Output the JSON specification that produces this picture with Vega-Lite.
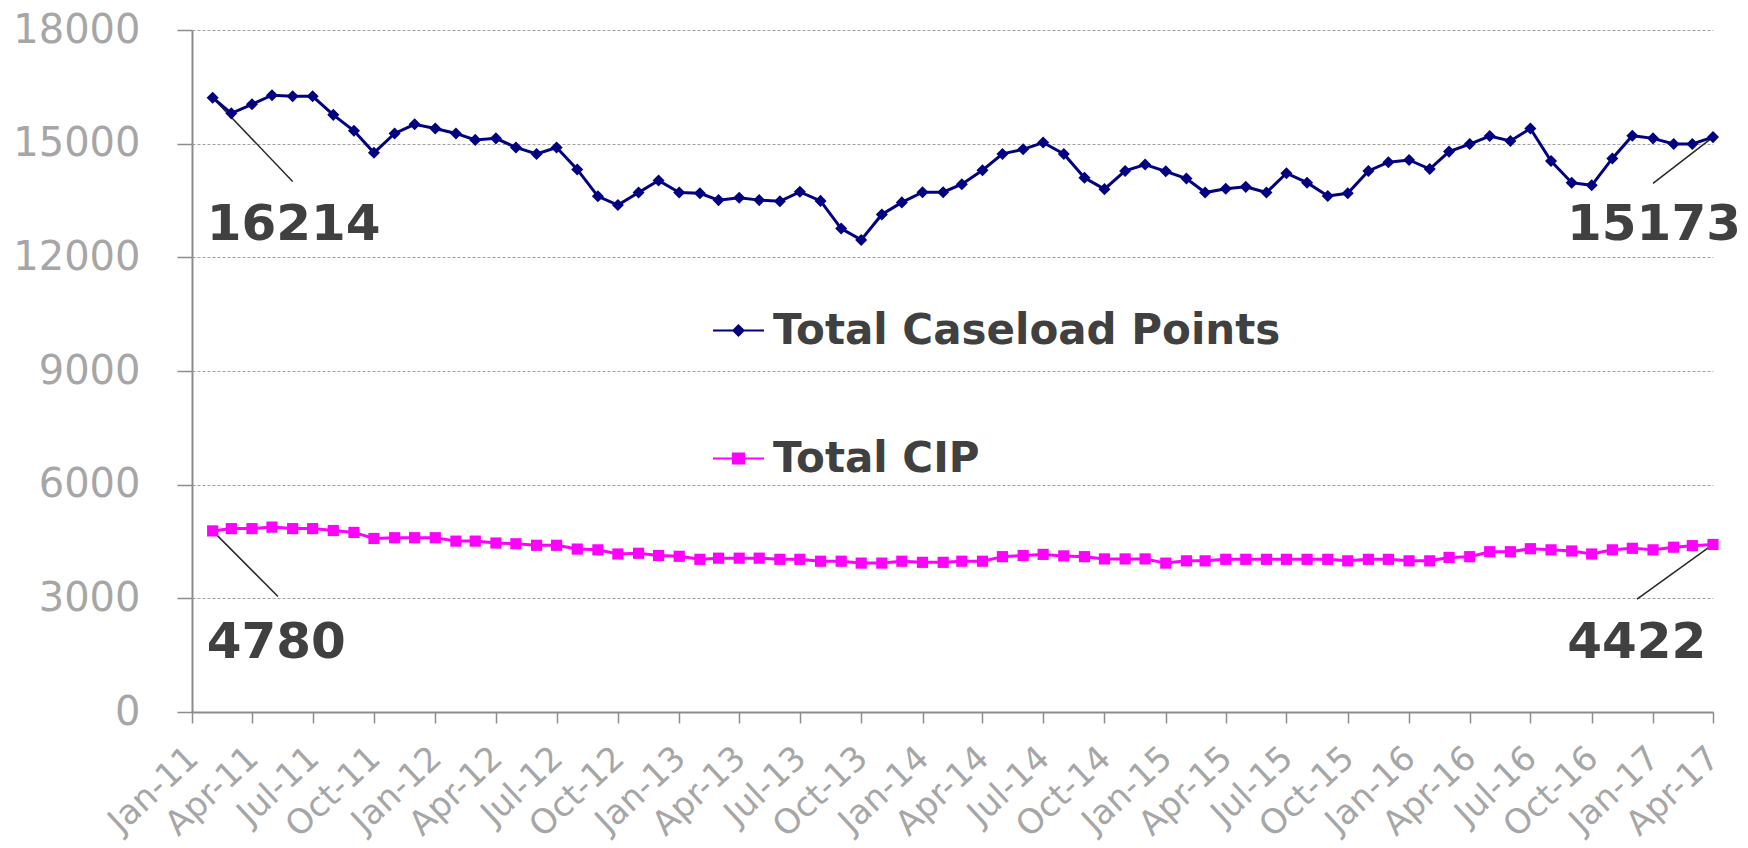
{
  "$schema": "https://vega.github.io/schema/vega-lite/v6.json",
  "autosize": {"type": "none"},
  "width": 1521,
  "height": 682,
  "padding": {"left": 192, "top": 30, "right": 35, "bottom": 136},
  "background": "white",
  "config": {"view": {"stroke": null}, "font": "DejaVu Sans"},
  "datasets": {
    "main": [
      {"date": "2011-02-01", "series": "Total Caseload Points", "value": 16214},
      {"date": "2011-03-01", "series": "Total Caseload Points", "value": 15800},
      {"date": "2011-04-01", "series": "Total Caseload Points", "value": 16040},
      {"date": "2011-05-01", "series": "Total Caseload Points", "value": 16280},
      {"date": "2011-06-01", "series": "Total Caseload Points", "value": 16250},
      {"date": "2011-07-01", "series": "Total Caseload Points", "value": 16250},
      {"date": "2011-08-01", "series": "Total Caseload Points", "value": 15760},
      {"date": "2011-09-01", "series": "Total Caseload Points", "value": 15340},
      {"date": "2011-10-01", "series": "Total Caseload Points", "value": 14760},
      {"date": "2011-11-01", "series": "Total Caseload Points", "value": 15270},
      {"date": "2011-12-01", "series": "Total Caseload Points", "value": 15510},
      {"date": "2012-01-01", "series": "Total Caseload Points", "value": 15400},
      {"date": "2012-02-01", "series": "Total Caseload Points", "value": 15270},
      {"date": "2012-03-01", "series": "Total Caseload Points", "value": 15100},
      {"date": "2012-04-01", "series": "Total Caseload Points", "value": 15140},
      {"date": "2012-05-01", "series": "Total Caseload Points", "value": 14900},
      {"date": "2012-06-01", "series": "Total Caseload Points", "value": 14730},
      {"date": "2012-07-01", "series": "Total Caseload Points", "value": 14900},
      {"date": "2012-08-01", "series": "Total Caseload Points", "value": 14320},
      {"date": "2012-09-01", "series": "Total Caseload Points", "value": 13610},
      {"date": "2012-10-01", "series": "Total Caseload Points", "value": 13380},
      {"date": "2012-11-01", "series": "Total Caseload Points", "value": 13710},
      {"date": "2012-12-01", "series": "Total Caseload Points", "value": 14030},
      {"date": "2013-01-01", "series": "Total Caseload Points", "value": 13710},
      {"date": "2013-02-01", "series": "Total Caseload Points", "value": 13690},
      {"date": "2013-03-01", "series": "Total Caseload Points", "value": 13510},
      {"date": "2013-04-01", "series": "Total Caseload Points", "value": 13570},
      {"date": "2013-05-01", "series": "Total Caseload Points", "value": 13510},
      {"date": "2013-06-01", "series": "Total Caseload Points", "value": 13480},
      {"date": "2013-07-01", "series": "Total Caseload Points", "value": 13730},
      {"date": "2013-08-01", "series": "Total Caseload Points", "value": 13490},
      {"date": "2013-09-01", "series": "Total Caseload Points", "value": 12760},
      {"date": "2013-10-01", "series": "Total Caseload Points", "value": 12460},
      {"date": "2013-11-01", "series": "Total Caseload Points", "value": 13130},
      {"date": "2013-12-01", "series": "Total Caseload Points", "value": 13450},
      {"date": "2014-01-01", "series": "Total Caseload Points", "value": 13720},
      {"date": "2014-02-01", "series": "Total Caseload Points", "value": 13720},
      {"date": "2014-03-01", "series": "Total Caseload Points", "value": 13930},
      {"date": "2014-04-01", "series": "Total Caseload Points", "value": 14300},
      {"date": "2014-05-01", "series": "Total Caseload Points", "value": 14730},
      {"date": "2014-06-01", "series": "Total Caseload Points", "value": 14850},
      {"date": "2014-07-01", "series": "Total Caseload Points", "value": 15030},
      {"date": "2014-08-01", "series": "Total Caseload Points", "value": 14730},
      {"date": "2014-09-01", "series": "Total Caseload Points", "value": 14100},
      {"date": "2014-10-01", "series": "Total Caseload Points", "value": 13800},
      {"date": "2014-11-01", "series": "Total Caseload Points", "value": 14280},
      {"date": "2014-12-01", "series": "Total Caseload Points", "value": 14450},
      {"date": "2015-01-01", "series": "Total Caseload Points", "value": 14270},
      {"date": "2015-02-01", "series": "Total Caseload Points", "value": 14080},
      {"date": "2015-03-01", "series": "Total Caseload Points", "value": 13710},
      {"date": "2015-04-01", "series": "Total Caseload Points", "value": 13810},
      {"date": "2015-05-01", "series": "Total Caseload Points", "value": 13860},
      {"date": "2015-06-01", "series": "Total Caseload Points", "value": 13710},
      {"date": "2015-07-01", "series": "Total Caseload Points", "value": 14220},
      {"date": "2015-08-01", "series": "Total Caseload Points", "value": 13970},
      {"date": "2015-09-01", "series": "Total Caseload Points", "value": 13620},
      {"date": "2015-10-01", "series": "Total Caseload Points", "value": 13690},
      {"date": "2015-11-01", "series": "Total Caseload Points", "value": 14280},
      {"date": "2015-12-01", "series": "Total Caseload Points", "value": 14510},
      {"date": "2016-01-01", "series": "Total Caseload Points", "value": 14570},
      {"date": "2016-02-01", "series": "Total Caseload Points", "value": 14330},
      {"date": "2016-03-01", "series": "Total Caseload Points", "value": 14790},
      {"date": "2016-04-01", "series": "Total Caseload Points", "value": 14990},
      {"date": "2016-05-01", "series": "Total Caseload Points", "value": 15200},
      {"date": "2016-06-01", "series": "Total Caseload Points", "value": 15070},
      {"date": "2016-07-01", "series": "Total Caseload Points", "value": 15400},
      {"date": "2016-08-01", "series": "Total Caseload Points", "value": 14540},
      {"date": "2016-09-01", "series": "Total Caseload Points", "value": 13970},
      {"date": "2016-10-01", "series": "Total Caseload Points", "value": 13900},
      {"date": "2016-11-01", "series": "Total Caseload Points", "value": 14610},
      {"date": "2016-12-01", "series": "Total Caseload Points", "value": 15210},
      {"date": "2017-01-01", "series": "Total Caseload Points", "value": 15140},
      {"date": "2017-02-01", "series": "Total Caseload Points", "value": 14990},
      {"date": "2017-03-01", "series": "Total Caseload Points", "value": 14990},
      {"date": "2017-04-01", "series": "Total Caseload Points", "value": 15173},
      {"date": "2011-02-01", "series": "Total CIP", "value": 4780},
      {"date": "2011-03-01", "series": "Total CIP", "value": 4840},
      {"date": "2011-04-01", "series": "Total CIP", "value": 4840},
      {"date": "2011-05-01", "series": "Total CIP", "value": 4880},
      {"date": "2011-06-01", "series": "Total CIP", "value": 4840},
      {"date": "2011-07-01", "series": "Total CIP", "value": 4840},
      {"date": "2011-08-01", "series": "Total CIP", "value": 4790},
      {"date": "2011-09-01", "series": "Total CIP", "value": 4740},
      {"date": "2011-10-01", "series": "Total CIP", "value": 4580},
      {"date": "2011-11-01", "series": "Total CIP", "value": 4600},
      {"date": "2011-12-01", "series": "Total CIP", "value": 4600},
      {"date": "2012-01-01", "series": "Total CIP", "value": 4600},
      {"date": "2012-02-01", "series": "Total CIP", "value": 4510},
      {"date": "2012-03-01", "series": "Total CIP", "value": 4510},
      {"date": "2012-04-01", "series": "Total CIP", "value": 4460},
      {"date": "2012-05-01", "series": "Total CIP", "value": 4440},
      {"date": "2012-06-01", "series": "Total CIP", "value": 4400},
      {"date": "2012-07-01", "series": "Total CIP", "value": 4400},
      {"date": "2012-08-01", "series": "Total CIP", "value": 4300},
      {"date": "2012-09-01", "series": "Total CIP", "value": 4280},
      {"date": "2012-10-01", "series": "Total CIP", "value": 4170},
      {"date": "2012-11-01", "series": "Total CIP", "value": 4190},
      {"date": "2012-12-01", "series": "Total CIP", "value": 4130},
      {"date": "2013-01-01", "series": "Total CIP", "value": 4110},
      {"date": "2013-02-01", "series": "Total CIP", "value": 4030},
      {"date": "2013-03-01", "series": "Total CIP", "value": 4060},
      {"date": "2013-04-01", "series": "Total CIP", "value": 4060},
      {"date": "2013-05-01", "series": "Total CIP", "value": 4060},
      {"date": "2013-06-01", "series": "Total CIP", "value": 4030},
      {"date": "2013-07-01", "series": "Total CIP", "value": 4030},
      {"date": "2013-08-01", "series": "Total CIP", "value": 3980},
      {"date": "2013-09-01", "series": "Total CIP", "value": 3980},
      {"date": "2013-10-01", "series": "Total CIP", "value": 3930},
      {"date": "2013-11-01", "series": "Total CIP", "value": 3930},
      {"date": "2013-12-01", "series": "Total CIP", "value": 3980},
      {"date": "2014-01-01", "series": "Total CIP", "value": 3950},
      {"date": "2014-02-01", "series": "Total CIP", "value": 3950},
      {"date": "2014-03-01", "series": "Total CIP", "value": 3980},
      {"date": "2014-04-01", "series": "Total CIP", "value": 3980},
      {"date": "2014-05-01", "series": "Total CIP", "value": 4100},
      {"date": "2014-06-01", "series": "Total CIP", "value": 4130},
      {"date": "2014-07-01", "series": "Total CIP", "value": 4160},
      {"date": "2014-08-01", "series": "Total CIP", "value": 4120},
      {"date": "2014-09-01", "series": "Total CIP", "value": 4100},
      {"date": "2014-10-01", "series": "Total CIP", "value": 4040},
      {"date": "2014-11-01", "series": "Total CIP", "value": 4040},
      {"date": "2014-12-01", "series": "Total CIP", "value": 4040},
      {"date": "2015-01-01", "series": "Total CIP", "value": 3930},
      {"date": "2015-02-01", "series": "Total CIP", "value": 3990},
      {"date": "2015-03-01", "series": "Total CIP", "value": 3990},
      {"date": "2015-04-01", "series": "Total CIP", "value": 4030},
      {"date": "2015-05-01", "series": "Total CIP", "value": 4030},
      {"date": "2015-06-01", "series": "Total CIP", "value": 4030},
      {"date": "2015-07-01", "series": "Total CIP", "value": 4030},
      {"date": "2015-08-01", "series": "Total CIP", "value": 4030},
      {"date": "2015-09-01", "series": "Total CIP", "value": 4030},
      {"date": "2015-10-01", "series": "Total CIP", "value": 3990},
      {"date": "2015-11-01", "series": "Total CIP", "value": 4030},
      {"date": "2015-12-01", "series": "Total CIP", "value": 4030},
      {"date": "2016-01-01", "series": "Total CIP", "value": 3990},
      {"date": "2016-02-01", "series": "Total CIP", "value": 3990},
      {"date": "2016-03-01", "series": "Total CIP", "value": 4080},
      {"date": "2016-04-01", "series": "Total CIP", "value": 4100},
      {"date": "2016-05-01", "series": "Total CIP", "value": 4230},
      {"date": "2016-06-01", "series": "Total CIP", "value": 4230},
      {"date": "2016-07-01", "series": "Total CIP", "value": 4310},
      {"date": "2016-08-01", "series": "Total CIP", "value": 4280},
      {"date": "2016-09-01", "series": "Total CIP", "value": 4250},
      {"date": "2016-10-01", "series": "Total CIP", "value": 4170},
      {"date": "2016-11-01", "series": "Total CIP", "value": 4280},
      {"date": "2016-12-01", "series": "Total CIP", "value": 4320},
      {"date": "2017-01-01", "series": "Total CIP", "value": 4280},
      {"date": "2017-02-01", "series": "Total CIP", "value": 4350},
      {"date": "2017-03-01", "series": "Total CIP", "value": 4390},
      {"date": "2017-04-01", "series": "Total CIP", "value": 4422}
    ],
    "leftLabels": [
      {"date": "2011-01-23", "value": 12850, "text": "16214"},
      {"date": "2011-01-23", "value": 1830, "text": "4780"}
    ],
    "rightLabels": [
      {"date": "2017-05-13", "value": 12850, "text": "15173"},
      {"date": "2017-03-22", "value": 1830, "text": "4422"}
    ],
    "leaders": [
      {"date": "2011-02-01", "value": 16214, "date2": "2011-06-01", "value2": 14000},
      {"date": "2017-04-01", "value": 15173, "date2": "2017-01-01", "value2": 13950},
      {"date": "2011-02-01", "value": 4780, "date2": "2011-05-10", "value2": 3050},
      {"date": "2017-04-01", "value": 4422, "date2": "2016-12-08", "value2": 2980}
    ]
  },
  "encoding": {
    "x": {
      "field": "date",
      "type": "temporal",
      "scale": {
        "type": "utc",
        "domain": [
          {"year": 2011, "month": 1, "date": 1, "utc": true},
          {"year": 2017, "month": 4, "date": 1, "utc": true}
        ]
      },
      "axis": {
        "title": null,
        "format": "%b-%y",
        "tickCount": {"interval": "month", "step": 3},
        "labelAngle": -43,
        "labelAlign": "right",
        "labelBaseline": "middle",
        "labelFont": "DejaVu Sans",
        "labelFontSize": 34,
        "labelColor": "#a6a6a6",
        "labelPadding": 30,
        "labelOffset": 1,
        "labelOverlap": false,
        "labelBound": false,
        "labelFlush": false,
        "tickSize": 11,
        "tickColor": "#8c8c8c",
        "tickWidth": 1.5,
        "domainColor": "#8c8c8c",
        "domainWidth": 2,
        "grid": false
      }
    },
    "y": {
      "field": "value",
      "type": "quantitative",
      "scale": {"domain": [0, 18000], "nice": false},
      "axis": {
        "title": null,
        "format": "d",
        "values": [0, 3000, 6000, 9000, 12000, 15000, 18000],
        "grid": true,
        "gridDash": [3, 2],
        "gridColor": "#a0a0a0",
        "gridWidth": 1,
        "labelFont": "DejaVu Sans",
        "labelFontSize": 40,
        "labelColor": "#a6a6a6",
        "labelPadding": 37,
        "tickSize": 15,
        "tickColor": "#8c8c8c",
        "tickWidth": 1.5,
        "domainColor": "#8c8c8c",
        "domainWidth": 2
      }
    }
  },
  "layer": [
    {
      "data": {"name": "leaders"},
      "mark": {"type": "rule", "color": "#262626", "strokeWidth": 1.5},
      "encoding": {
        "x2": {"field": "date2"},
        "y2": {"field": "value2"}
      }
    },
    {
      "data": {"name": "main"},
      "mark": {"type": "line", "strokeWidth": 3},
      "encoding": {
        "color": {
          "field": "series",
          "type": "nominal",
          "scale": {"domain": ["Total Caseload Points", "Total CIP"], "range": ["#000080", "#ff00ff"]},
          "legend": {
            "title": null,
            "orient": "none",
            "legendX": 520,
            "legendY": 274,
            "direction": "vertical",
            "rowPadding": 80,
            "symbolSize": 2601,
            "labelFont": "DejaVu Sans",
            "labelFontWeight": "bold",
            "labelFontSize": 42,
            "labelColor": "#404040",
            "labelOffset": 8,
            "labelLimit": 1000,
            "encode": {
              "symbols": {
                "update": {
                  "shape": [
                    {"test": "datum.value === 'Total CIP'", "value": "M-1,0H1M-0.22,-0.2H0.22V0.2H-0.22Z"},
                    {"value": "M-1,0H1M-0.2,0L0,-0.2L0.2,0L0,0.2Z"}
                  ],
                  "fill": [
                    {"test": "datum.value === 'Total CIP'", "value": "#ff00ff"},
                    {"value": "#000080"}
                  ],
                  "stroke": [
                    {"test": "datum.value === 'Total CIP'", "value": "#ff00ff"},
                    {"value": "#000080"}
                  ],
                  "strokeWidth": {"value": 2},
                  "opacity": {"value": 1}
                }
              }
            }
          }
        }
      }
    },
    {
      "data": {"name": "main"},
      "transform": [{"filter": "datum.series === 'Total Caseload Points'"}],
      "mark": {"type": "point", "shape": "diamond", "filled": true, "size": 145, "opacity": 1, "color": "#000080"}
    },
    {
      "data": {"name": "main"},
      "transform": [{"filter": "datum.series === 'Total CIP'"}],
      "mark": {"type": "point", "shape": "square", "filled": true, "size": 125, "opacity": 1, "color": "#ff00ff"}
    },
    {
      "data": {"name": "leftLabels"},
      "mark": {"type": "text", "align": "left", "baseline": "middle", "font": "DejaVu Sans", "fontWeight": "bold", "fontSize": 50, "color": "#404040"},
      "encoding": {"text": {"field": "text"}}
    },
    {
      "data": {"name": "rightLabels"},
      "mark": {"type": "text", "align": "right", "baseline": "middle", "font": "DejaVu Sans", "fontWeight": "bold", "fontSize": 50, "color": "#404040"},
      "encoding": {"text": {"field": "text"}}
    }
  ]
}
